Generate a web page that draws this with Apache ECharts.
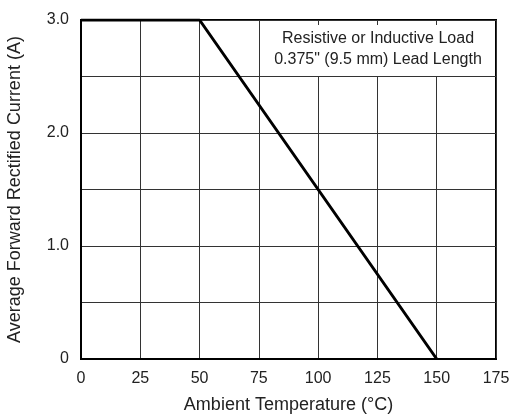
<!DOCTYPE html>
<html>
<head>
<meta charset="utf-8">
<script src="https://cdn.jsdelivr.net/npm/echarts@6/dist/echarts.min.js"></script>
<style>
  html, body { margin: 0; padding: 0; background: #fff; }
  #chart { width: 512px; height: 414px; }
</style>
</head>
<body>
<div id="chart"></div>
<script>
// derating curve
var temps = [0, 50, 150];
var current = [3.0, 3.0, 0];
var yLabels = { 0: "0", 1: "1.0", 2: "2.0", 3: "3.0" };
var noteLines = ["Resistive or Inductive Load", "0.375\" (9.5 mm) Lead Length"];

var font = "Liberation Sans, Arial, Helvetica, sans-serif";
var chart = echarts.init(document.getElementById("chart"));

var pts = [];
for (var i = 0; i < temps.length; i++) {
  pts.push([temps[i], current[i]]);
}

chart.setOption({
  animation: false,
  grid: {
    left: 81, right: 16, top: 20, bottom: 55,
    outerBoundsMode: "none",
    show: true, borderColor: "#000", borderWidth: 2
  },
  xAxis: {
    type: "value", min: 0, max: 175, interval: 25,
    name: "Ambient Temperature (°C)",
    nameLocation: "middle", nameGap: 37,
    nameTextStyle: { fontFamily: font, fontSize: 18, color: "#222" },
    axisLine: { show: true, lineStyle: { color: "#000", width: 2 } },
    axisTick: { show: false },
    axisLabel: { fontFamily: font, fontSize: 16, color: "#222", margin: 12 },
    splitLine: { show: true, lineStyle: { color: "#333", width: 1 } }
  },
  yAxis: {
    type: "value", min: 0, max: 3, interval: 0.5,
    name: "Average Forward Rectified Current (A)",
    nameLocation: "middle", nameGap: 57, nameRotate: 90,
    nameTextStyle: { fontFamily: font, fontSize: 18, color: "#222" },
    axisLine: { show: true, lineStyle: { color: "#000", width: 2 } },
    axisTick: { show: false },
    axisLabel: {
      fontFamily: font, fontSize: 16, color: "#222", margin: 12,
      formatter: function (v) {
        return yLabels[v] !== undefined ? yLabels[v] : "";
      }
    },
    splitLine: { show: true, lineStyle: { color: "#333", width: 1 } }
  },
  graphic: [
    {
      type: "rect", x: 264, y: 25, z: 10,
      shape: { width: 230, height: 51 },
      style: { fill: "#fff" }
    },
    {
      type: "text", x: 378, y: 28, z: 11,
      style: {
        text: noteLines.join("\n"), fill: "#222",
        font: "16px " + font, lineHeight: 21,
        align: "center", verticalAlign: "top"
      }
    }
  ],
  series: [{
    type: "line",
    data: pts,
    symbol: "none",
    lineStyle: { color: "#000", width: 3 },
    z: 5
  }]
});
</script>
</body>
</html>
